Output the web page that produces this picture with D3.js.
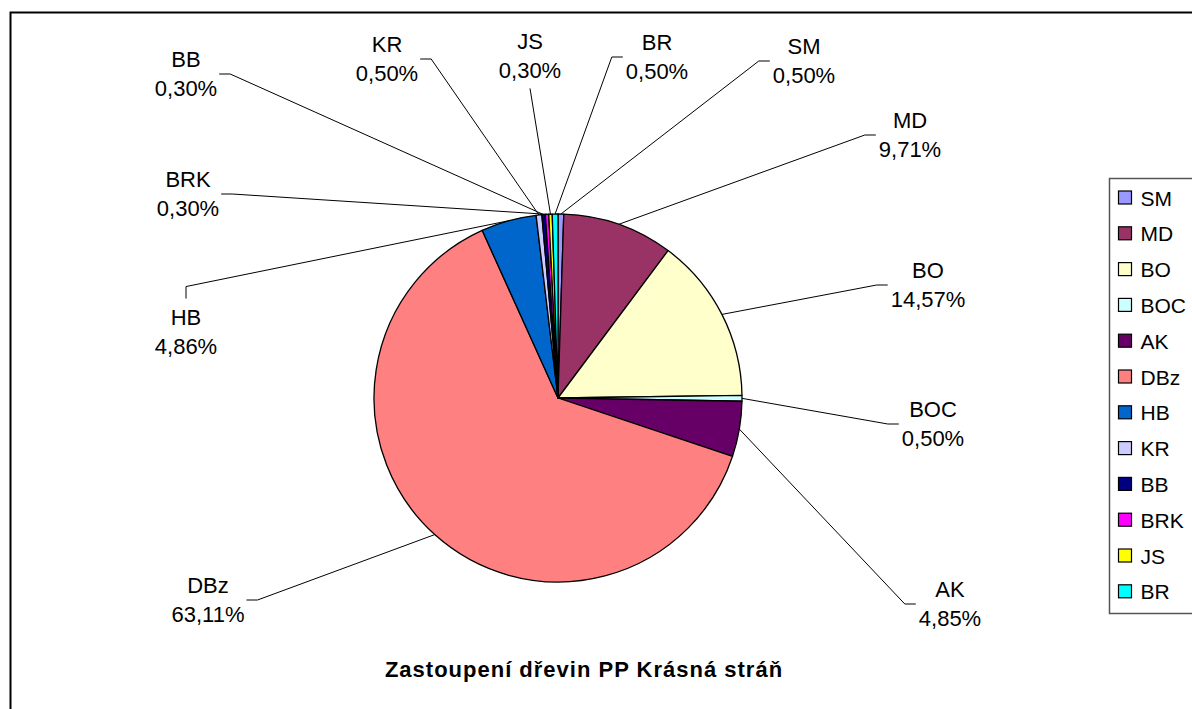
<!DOCTYPE html>
<html>
<head>
<meta charset="utf-8">
<script src="https://cdn.jsdelivr.net/npm/d3@7"></script>
<style>
  body { margin: 0; background: #fff; }
  svg { display: block; font-family: "Liberation Sans", Arial, sans-serif; }
</style>
</head>
<body>
<svg width="1192" height="709"></svg>
<script>
const categories = ['SM', 'MD', 'BO', 'BOC', 'AK', 'DBz', 'HB', 'KR', 'BB', 'BRK', 'JS', 'BR'];
const values = [0.50, 9.71, 14.57, 0.50, 4.85, 63.11, 4.86, 0.50, 0.30, 0.30, 0.30, 0.50];
const colors = ['#9999FF', '#993366', '#FFFFCC', '#CCFFFF', '#660066', '#FF8080',
                '#0066CC', '#CCCCFF', '#000080', '#FF00FF', '#FFFF00', '#00FFFF'];
const title = 'Zastoupení dřevin PP Krásná stráň';

// where each data label sits (centre of text block) and which side the leader attaches to
const labelLayout = {
  SM:  {cx: 804, cy: 61,  side: 'L'},
  MD:  {cx: 910, cy: 135, side: 'L'},
  BO:  {cx: 928, cy: 285, side: 'L'},
  BOC: {cx: 933, cy: 424, side: 'L'},
  AK:  {cx: 950, cy: 604, side: 'L'},
  DBz: {cx: 208, cy: 600, side: 'R'},
  HB:  {cx: 186, cy: 332, side: 'T'},
  KR:  {cx: 387, cy: 59,  side: 'R'},
  BB:  {cx: 186, cy: 74,  side: 'R'},
  BRK: {cx: 188, cy: 194, side: 'R'},
  JS:  {cx: 530, cy: 56,  side: 'B'},
  BR:  {cx: 657, cy: 57,  side: 'L'}
};

const svg = d3.select('svg');
const cx = 558, cy = 398, radius = 184;
const fontSize = 22, linePitch = 29;

// outer chart border
svg.append('rect')
  .attr('x', 10.5).attr('y', 12.5)
  .attr('width', 1250).attr('height', 760)
  .attr('fill', 'none').attr('stroke', '#000').attr('stroke-width', 2);

const color = d3.scaleOrdinal().domain(categories).range(colors);
const data = categories.map((c, i) => ({name: c, value: values[i]}));
const pie = d3.pie().value(d => d.value).sort(null);
const arc = d3.arc().innerRadius(0).outerRadius(radius);
const arcs = pie(data);

const g = svg.append('g').attr('transform', `translate(${cx},${cy})`);
g.selectAll('path.slice')
  .data(arcs)
  .enter()
  .append('path')
  .attr('class', 'slice')
  .attr('d', arc)
  .attr('fill', d => color(d.data.name))
  .attr('stroke', '#000')
  .attr('stroke-width', 1.3)
  .attr('stroke-linejoin', 'round');

const fmt = v => v.toFixed(2).replace('.', ',') + '%';

// data labels and leader lines
const labels = svg.append('g').attr('class', 'labels');
arcs.forEach(a => {
  const lay = labelLayout[a.data.name];
  const t = labels.append('text')
    .attr('text-anchor', 'middle')
    .attr('font-size', fontSize)
    .attr('fill', '#000');
  const base1 = lay.cy - 6.6;
  t.append('tspan').attr('x', lay.cx).attr('y', base1).text(a.data.name);
  t.append('tspan').attr('x', lay.cx).attr('y', base1 + linePitch).text(fmt(a.data.value));
  const bb = t.node().getBBox();
  const top = base1 - fontSize * 0.72, bottom = base1 + linePitch;

  let end, elbow;
  if (lay.side === 'L') {
    end = [bb.x - 3, lay.cy];
    elbow = [end[0] - 11, lay.cy];
  } else if (lay.side === 'R') {
    end = [bb.x + bb.width + 2, lay.cy];
    elbow = [end[0] + 11, lay.cy];
  } else if (lay.side === 'T') {
    end = [lay.cx, top - 11];
    elbow = [lay.cx, end[1] - 12];
  } else {
    end = [lay.cx, bottom + 10];
    elbow = end;
  }
  const mid = (a.startAngle + a.endAngle) / 2;
  const start = [cx + radius * Math.sin(mid), cy - radius * Math.cos(mid)];
  labels.append('path')
    .attr('d', d3.line()([start, elbow, end]))
    .attr('fill', 'none')
    .attr('stroke', '#000')
    .attr('stroke-width', 1);
});

// legend
const legX = 1109.5, legY = 178.5, legPitch = 35.8;
const legend = svg.append('g');
legend.append('rect')
  .attr('x', legX).attr('y', legY)
  .attr('width', 120).attr('height', 613 - 178)
  .attr('fill', '#fff').attr('stroke', '#555').attr('stroke-width', 1.5);
const items = legend.selectAll('g.item')
  .data(categories)
  .enter()
  .append('g')
  .attr('class', 'item')
  .attr('transform', (d, i) => `translate(${legX}, ${legY + 19 + i * legPitch})`);
items.append('rect')
  .attr('x', 9).attr('y', -6.5)
  .attr('width', 13).attr('height', 13)
  .attr('fill', d => color(d))
  .attr('stroke', '#000').attr('stroke-width', 1.2);
items.append('text')
  .attr('x', 31).attr('y', 8)
  .attr('font-size', 21)
  .text(d => d);

// title
svg.append('text')
  .attr('x', 584).attr('y', 677)
  .attr('text-anchor', 'middle')
  .attr('font-size', 22)
  .attr('letter-spacing', 1)
  .attr('font-weight', 'bold')
  .text(title);
</script>
</body>
</html>
